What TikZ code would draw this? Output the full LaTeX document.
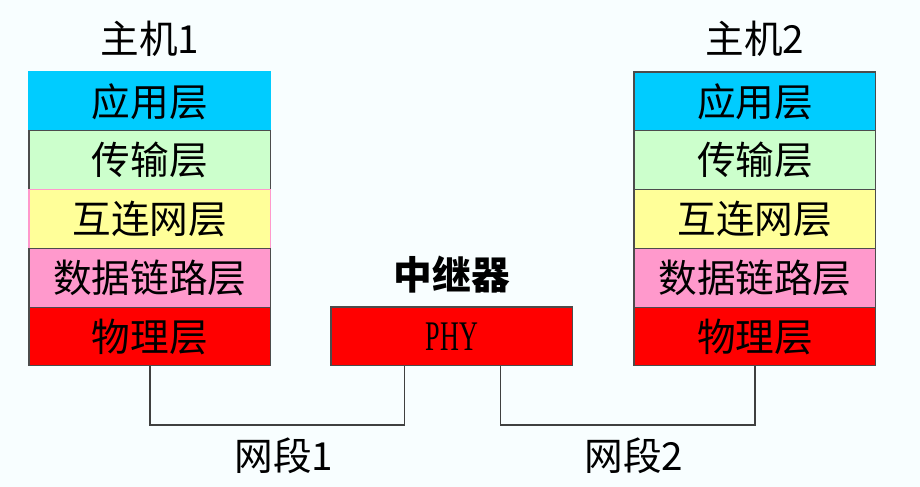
\documentclass[tikz,border=0pt]{standalone}
\usepackage{fontspec}
\usepackage{graphicx}
\newfontfamily\cjk{Noto Sans CJK SC}
\newfontfamily\phyfont{Liberation Serif}
\usetikzlibrary{positioning}
\definecolor{bgcol}{HTML}{F8FEFF}
\definecolor{appcol}{HTML}{00CCFF}
\definecolor{tracol}{HTML}{CCFFCC}
\definecolor{netcol}{HTML}{FFFF99}
\definecolor{linkcol}{HTML}{FF99CC}
\definecolor{phycol}{HTML}{FF0000}
\begin{document}
\begin{tikzpicture}[x=0.02cm, y=-0.02cm,
    every node/.style={font=\cjk\fontsize{22}{26}\selectfont, inner sep=0pt, outer sep=0pt},
    layer/.style={draw=black!70, line width=0.6pt, minimum width=4.84cm, minimum height=1.176cm},
    wire/.style={draw=black!75, line width=0.6pt}]
    \fill[bgcol] (0,0) rectangle (920,487);
    % host 1
    \node[layer, fill=appcol, draw=appcol, anchor=north west] (app1) at (29,72) {应用层};
    \node[layer, fill=tracol, below=0pt of app1] (tra1) {传输层};
    \node[layer, fill=netcol, draw=linkcol, below=0pt of tra1] (net1) {互连网层};
    \node[layer, fill=linkcol, below=0pt of net1] (link1) {数据链路层};
    \node[layer, fill=phycol, below=0pt of link1] (phys1) {物理层};
    \node[above=9pt of app1] (host1) {主机1};
    % host 2
    \node[layer, fill=appcol, anchor=north west] (app2) at (634,72) {应用层};
    \node[layer, fill=tracol, below=0pt of app2] (tra2) {传输层};
    \node[layer, fill=netcol, below=0pt of tra2] (net2) {互连网层};
    \node[layer, fill=linkcol, below=0pt of net2] (link2) {数据链路层};
    \node[layer, fill=phycol, below=0pt of link2] (phys2) {物理层};
    \node[above=9pt of app2] (host2) {主机2};
    % repeater
    \node[layer, fill=phycol, anchor=north west, font=\phyfont\fontsize{24}{28}\selectfont] (phy) at (331,307) {\scalebox{0.62}[1]{PHY}};
    \node[above=8pt of phy, font=\cjk\bfseries\fontsize{22}{26}\selectfont] (rep) {中继器};
    % segments
    \coordinate (seg1) at (277,425);
    \coordinate (seg2) at (627,425);
    \draw[wire] (phys1.south) |- (seg1) -| ([xshift=-0.95cm]phy.south);
    \draw[wire] ([xshift=0.97cm]phy.south) |- (seg2) -| (phys2.south);
    \node[below=7pt of seg1, xshift=0.14cm] (seglab1) {网段1};
    \node[below=7pt of seg2, xshift=0.14cm] (seglab2) {网段2};
\end{tikzpicture}
\end{document}
